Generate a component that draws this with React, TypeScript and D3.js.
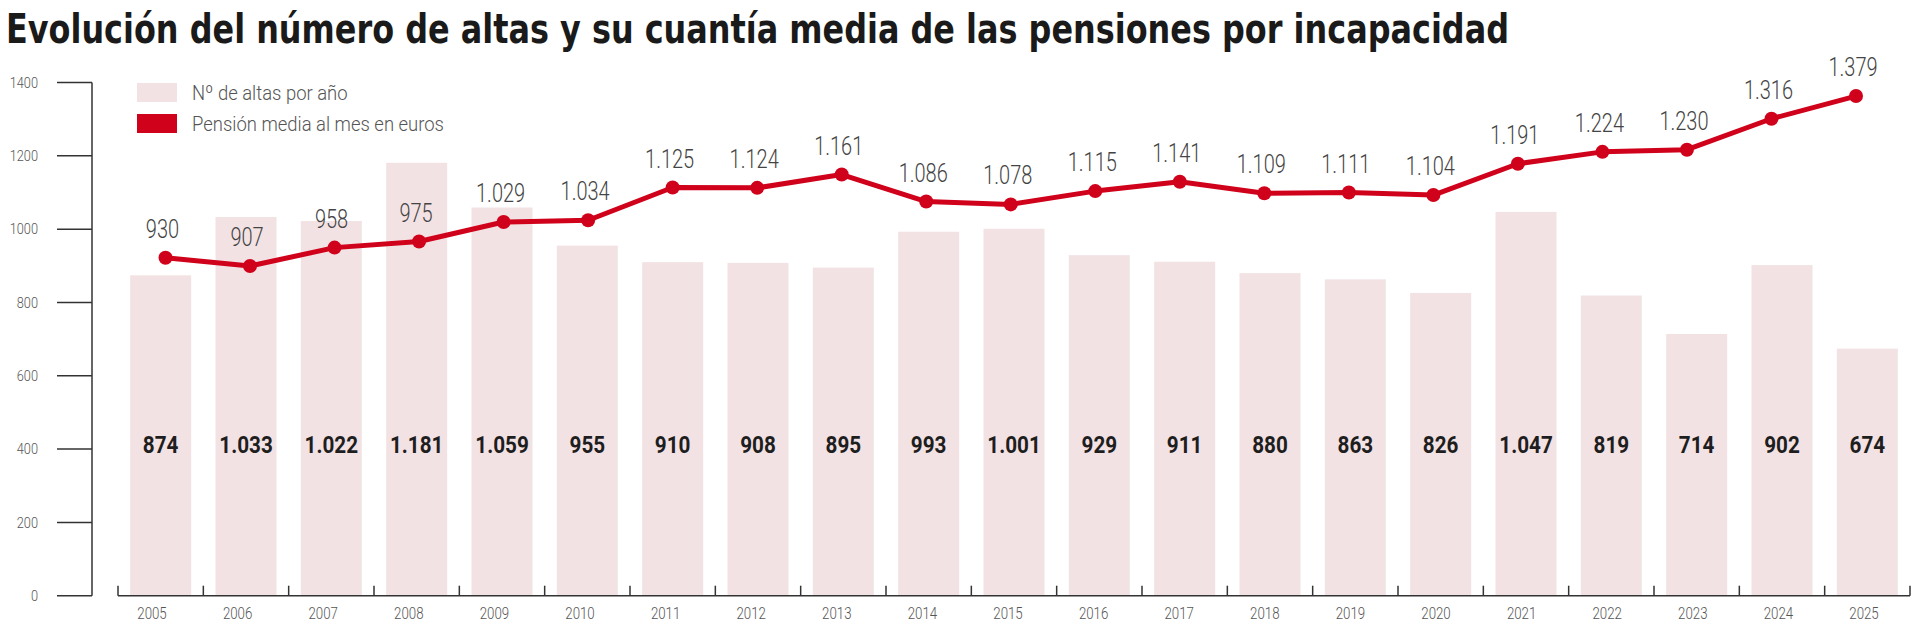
import React from 'react';
import * as d3 from 'd3';

// años
const years = [
  '2005', '2006', '2007', '2008', '2009', '2010', '2011', '2012', '2013', '2014', '2015',
  '2016', '2017', '2018', '2019', '2020', '2021', '2022', '2023', '2024', '2025'
];

// Nº de altas por año
const altas = [
  874, 1033, 1022, 1181, 1059, 955, 910, 908, 895, 993, 1001,
  929, 911, 880, 863, 826, 1047, 819, 714, 902, 674
];

// Pensión media al mes en euros
const pension = [
  930, 907, 958, 975, 1029, 1034, 1125, 1124, 1161, 1086, 1078,
  1115, 1141, 1109, 1111, 1104, 1191, 1224, 1230, 1316, 1379
];

const yTicks = [0, 200, 400, 600, 800, 1000, 1200, 1400];

const legendItems = ['Nº de altas por año', 'Pensión media al mes en euros'];

const TITLE = 'Evolución del número de altas y su cuantía media de las pensiones por incapacidad';

const WIDTH = 1920;
const HEIGHT = 625;

const TITLE_FONT = "'DejaVu Sans Condensed', sans-serif";
const FONT = 'Roboto, sans-serif';
const RED = '#d0021b';
const PINK = '#f3e2e4';
const AXIS = '#333';

const es = d3.formatLocale({ decimal: ',', thousands: '.', grouping: [3], currency: ['', ' €'] });
const fmt = es.format(',d');

// texto estrecho: la fuente original es condensada
const Narrow = (props: {
  x: number;
  y: number;
  sx: number;
  anchor?: 'start' | 'middle' | 'end';
  size: number;
  weight?: number;
  fill: string;
  dy?: string;
  children: React.ReactNode;
}) => (
  <text
    transform={`translate(${props.x},${props.y}) scale(${props.sx},1)`}
    textAnchor={props.anchor || 'middle'}
    fontSize={props.size}
    fontWeight={props.weight || 400}
    fill={props.fill}
    dy={props.dy}
  >
    {props.children}
  </text>
);

export default function App() {
  // barras
  const x = d3.scaleBand<string>().domain(years).range([118, 1910]).paddingInner(0.285).paddingOuter(0.1425);
  const y = d3.scaleLinear().domain([0, 1400]).range([595.7, 82.5]);

  // línea (dibujada a mano en el original: escala algo distinta)
  const xLine = d3.scalePoint<string>().domain(years).range([165.5, 1856]);
  const yLine = d3.scaleLinear().domain([0, 1400]).range([592.5, 88.5]);

  // etiquetas de año
  const xYear = d3.scalePoint<string>().domain(years).range([152, 1864]);

  const gap = x.step() - x.bandwidth();
  const tickXs = years.map(d => (x(d) || 0) - gap / 2).concat([(x(years[years.length - 1]) || 0) + x.bandwidth() + gap / 2]);

  const pts = years.map((d, i) => ({ x: xLine(d) || 0, y: yLine(pension[i]) }));
  const line = d3.line<{ x: number; y: number }>().x(d => d.x).y(d => d.y).curve(d3.curveLinear);

  return (
    <>
      <style>{'body{margin:0;background:#fff}'}</style>
      <svg width={WIDTH} height={HEIGHT} style={{ display: 'block' }} fontFamily={FONT}>
        {/* título */}
        <text
          x={6}
          y={43}
          fontFamily={TITLE_FONT}
          fontSize={40}
          fontWeight={700}
          fill="#1a1a1a"
          textLength={1503}
          lengthAdjust="spacingAndGlyphs"
        >
          {TITLE}
        </text>

        {/* eje y */}
        <g className="y-axis">
          <line x1={92} x2={92} y1={y(1400)} y2={y(0)} stroke={AXIS} strokeWidth={1.5} />
          {yTicks.map(t => (
            <g key={t}>
              <line x1={57} x2={92} y1={y(t)} y2={y(t)} stroke={AXIS} strokeWidth={1.5} />
              <Narrow x={38} y={y(t)} dy="0.35em" sx={0.85} anchor="end" size={15} weight={300} fill="#555">
                {t}
              </Narrow>
            </g>
          ))}
        </g>

        {/* barras */}
        <g className="bars">
          {years.map((d, i) => (
            <rect key={d} x={x(d)} y={y(altas[i])} width={x.bandwidth()} height={y(0) - y(altas[i])} fill={PINK} />
          ))}
          {years.map((d, i) => (
            <Narrow key={d} x={(x(d) || 0) + x.bandwidth() / 2} y={453} sx={0.9} size={23} weight={700} fill="#1e1e1e">
              {fmt(altas[i])}
            </Narrow>
          ))}
        </g>

        {/* eje x */}
        <g className="x-axis">
          <line x1={tickXs[0]} x2={tickXs[tickXs.length - 1]} y1={y(0)} y2={y(0)} stroke={AXIS} strokeWidth={1.5} />
          {tickXs.map((tx, i) => (
            <line key={i} x1={tx} x2={tx} y1={y(0)} y2={y(0) - 10} stroke={AXIS} strokeWidth={1.5} />
          ))}
          {years.map(d => (
            <Narrow key={d} x={xYear(d) || 0} y={619} sx={0.83} size={16} weight={300} fill="#555">
              {d}
            </Narrow>
          ))}
        </g>

        {/* línea */}
        <g className="line">
          <path d={line(pts) || ''} fill="none" stroke={RED} strokeWidth={5} strokeLinejoin="round" />
          {pts.map((p, i) => (
            <circle key={i} cx={p.x} cy={p.y} r={7} fill={RED} />
          ))}
          {pts.map((p, i) => (
            <Narrow key={i} x={p.x - 3} y={p.y - 20} sx={0.8} size={25} weight={300} fill="#444">
              {fmt(pension[i])}
            </Narrow>
          ))}
        </g>

        {/* leyenda */}
        <g className="legend" transform="translate(137,83)">
          {legendItems.map((d, i) => (
            <g key={d} transform={`translate(0,${i * 31})`}>
              <rect width={40} height={19} fill={i === 0 ? PINK : RED} />
              <Narrow x={55} y={9.5} dy="0.35em" sx={0.9} anchor="start" size={20.5} weight={300} fill="#555">
                {d}
              </Narrow>
            </g>
          ))}
        </g>
      </svg>
    </>
  );
}
